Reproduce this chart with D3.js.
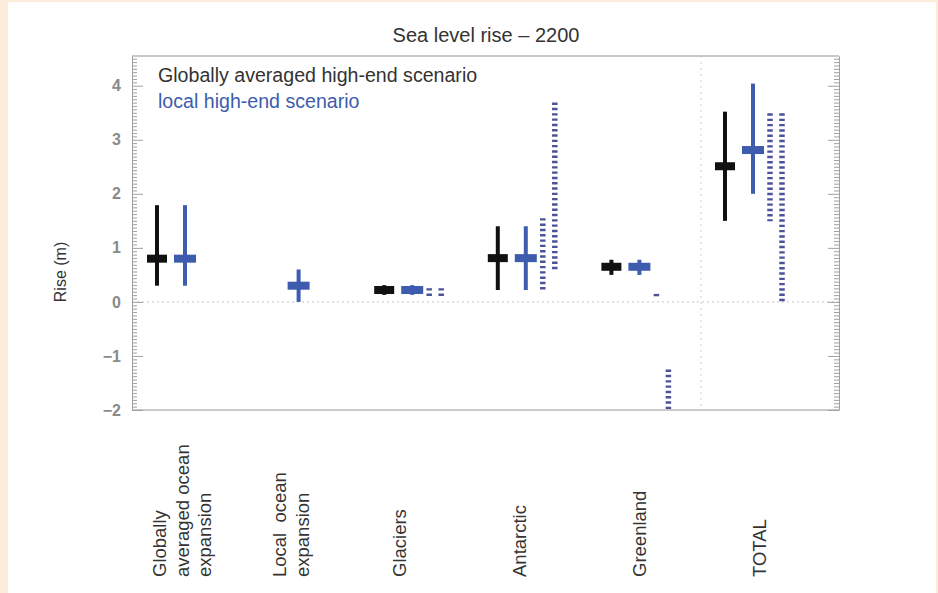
<!DOCTYPE html>
<html>
<head>
<meta charset="utf-8">
<script src="https://cdn.jsdelivr.net/npm/d3@7"></script>
<style>
  html, body { margin: 0; padding: 0; background: #fcecdc; }
  svg { display: block; font-family: "Liberation Sans", Arial, sans-serif; }
  .ytick text { font-size: 16px; font-weight: bold; fill: #8a8a8a; font-family: "Liberation Sans", Arial, sans-serif; }
</style>
</head>
<body>
<svg id="chart" width="938" height="593"></svg>
<script>
// ---- data ----
const categories = ["Globally averaged ocean expansion", "Local ocean expansion", "Glaciers", "Antarctic", "Greenland", "TOTAL"];
const labelLines = [["Globally", "averaged ocean", "expansion"], ["Local  ocean", "expansion"], ["Glaciers"], ["Antarctic"], ["Greenland"], ["TOTAL"]];

// globally averaged high-end scenario (black)
const globalMid = [0.80, null, 0.22, 0.81, 0.65, 2.51];
const globalLo  = [0.30, null, 0.13, 0.22, 0.50, 1.50];
const globalHi  = [1.79, null, 0.31, 1.40, 0.78, 3.52];
// local high-end scenario (blue)
const localMid = [0.80, 0.30, 0.22, 0.81, 0.65, 2.81];
const localLo  = [0.30, 0.00, 0.13, 0.22, 0.50, 2.00];
const localHi  = [1.79, 0.60, 0.31, 1.40, 0.78, 4.04];
// dotted ranges (two columns)
const range1Lo = [null, null, 0.085, 0.24, 0.10, 1.52];
const range1Hi = [null, null, 0.235, 1.53, 0.13, 3.47];
const range2Lo = [null, null, 0.085, 0.58, -1.97, 0.00];
const range2Hi = [null, null, 0.235, 3.67, -1.27, 3.47];

const yTicks = [-2, -1, 0, 1, 2, 3, 4];
const title = "Sea level rise – 2200";
const yLabel = "Rise (m)";
const legendGlobal = "Globally averaged high-end scenario";
const legendLocal = "local high-end scenario";

// ---- layout ----
const svg = d3.select("#chart");
const frame = {left: 132, right: 839, top: 56, bottom: 410};
const BLACK = "#111111", BLUE = "#3d5cae", DOTS = "#4b5299", AXIS = "#a0a0a0";

svg.append("rect").attr("x", 8).attr("y", 2).attr("width", 928).attr("height", 591).attr("fill", "#ffffff");

const y = d3.scaleLinear().domain([-2, 4.55]).range([frame.bottom, frame.top]);
const x = d3.scalePoint().domain(categories).range([157, 725]);
const xLabel = d3.scalePoint().domain(categories).range([166, 766]);
const off = {g: 0, l: 28, r1: 45, r2: 57};

// zero line
svg.append("line")
  .attr("x1", frame.left).attr("x2", frame.right)
  .attr("y1", y(0)).attr("y2", y(0))
  .attr("stroke", "#c4c4c4").attr("stroke-width", 1).attr("stroke-dasharray", "2,3");

// separator before TOTAL
svg.append("line")
  .attr("x1", x("TOTAL") - 24).attr("x2", x("TOTAL") - 24)
  .attr("y1", frame.top).attr("y2", frame.bottom)
  .attr("stroke", "#cfcfcf").attr("stroke-width", 1).attr("stroke-dasharray", "2,4");

// frame top & bottom
svg.append("line").attr("x1", frame.left).attr("x2", frame.right).attr("y1", frame.top).attr("y2", frame.top)
  .attr("stroke", "#c8c8c8").attr("stroke-width", 2);
svg.append("line").attr("x1", frame.left).attr("x2", frame.right).attr("y1", frame.bottom).attr("y2", frame.bottom)
  .attr("stroke", "#b8b8b8").attr("stroke-width", 1.5);

// axes
const minor = d3.range(-2, 4.55, 1 / 16).filter(v => Math.abs(v - Math.round(v)) > 1e-6);
function styleAxis(g) {
  g.selectAll("path, line").attr("stroke", AXIS);
}
const leftG = svg.append("g").attr("class", "ytick").attr("transform", `translate(${frame.left},0)`)
  .call(d3.axisLeft(y).tickValues(yTicks).tickSizeInner(-11).tickSizeOuter(0).tickPadding(11).tickFormat(d => d < 0 ? "\u2212" + Math.abs(d) : d));
styleAxis(leftG);
const leftMinor = svg.append("g").attr("transform", `translate(${frame.left},0)`)
  .call(d3.axisLeft(y).tickValues(minor).tickSizeInner(-5).tickSizeOuter(0).tickFormat(""));
styleAxis(leftMinor);
leftMinor.select(".domain").remove();
const rightG = svg.append("g").attr("transform", `translate(${frame.right},0)`)
  .call(d3.axisRight(y).tickValues(yTicks).tickSizeInner(-11).tickSizeOuter(0).tickFormat(""));
styleAxis(rightG);
const rightMinor = svg.append("g").attr("transform", `translate(${frame.right},0)`)
  .call(d3.axisRight(y).tickValues(minor).tickSizeInner(-5).tickSizeOuter(0).tickFormat(""));
styleAxis(rightMinor);
rightMinor.select(".domain").remove();

// dotted ranges
function dotted(lo, hi, dx) {
  const data = categories.map((c, i) => ({c, lo: lo[i], hi: hi[i]})).filter(d => d.lo !== null);
  svg.append("g").selectAll("line").data(data).join("line")
    .attr("x1", d => x(d.c) + dx).attr("x2", d => x(d.c) + dx)
    .attr("y1", d => y(d.hi) - 1).attr("y2", d => y(d.lo) + 1.5)
    .attr("stroke", DOTS).attr("stroke-width", 5.5).attr("stroke-dasharray", "2.4,2.9");
}
dotted(range1Lo, range1Hi, off.r1);
dotted(range2Lo, range2Hi, off.r2);

// crosses
function crosses(mid, lo, hi, dx, color, barW) {
  const data = categories.map((c, i) => ({c, m: mid[i], lo: lo[i], hi: hi[i]})).filter(d => d.m !== null);
  const g = svg.append("g");
  g.selectAll("line.v").data(data).join("line").attr("class", "v")
    .attr("x1", d => x(d.c) + dx).attr("x2", d => x(d.c) + dx)
    .attr("y1", d => y(d.hi)).attr("y2", d => y(d.lo))
    .attr("stroke", color).attr("stroke-width", 4);
  g.selectAll("rect").data(data).join("rect")
    .attr("x", d => x(d.c) + dx - barW / 2).attr("y", d => y(d.m) - 4)
    .attr("width", barW).attr("height", 8).attr("fill", color);
}
crosses(globalMid, globalLo, globalHi, off.g, BLACK, 20);
crosses(localMid, localLo, localHi, off.l, BLUE, 22);

// legend
const leg = svg.append("g");
leg.append("text").attr("x", 158).attr("y", 82).attr("font-size", 19.6).attr("fill", "#333").text(legendGlobal);
leg.append("text").attr("x", 158).attr("y", 108).attr("font-size", 19.6).attr("fill", BLUE).text(legendLocal);

// title
svg.append("text").attr("x", 486).attr("y", 42).attr("text-anchor", "middle")
  .attr("font-size", 20).attr("fill", "#333").text(title);

// y label
svg.append("text").attr("transform", "translate(66,272) rotate(-90)")
  .attr("text-anchor", "middle").attr("font-size", 16).attr("fill", "#333").text(yLabel);

// category labels
categories.forEach((c, i) => {
  labelLines[i].forEach((ln, j) => {
    svg.append("text")
      .attr("transform", `translate(${xLabel(c) + j * 22.5},577) rotate(-90)`)
      .attr("font-size", 18.5).attr("fill", "#333")
      .style("white-space", "pre")
      .text(ln);
  });
});
</script>
</body>
</html>
